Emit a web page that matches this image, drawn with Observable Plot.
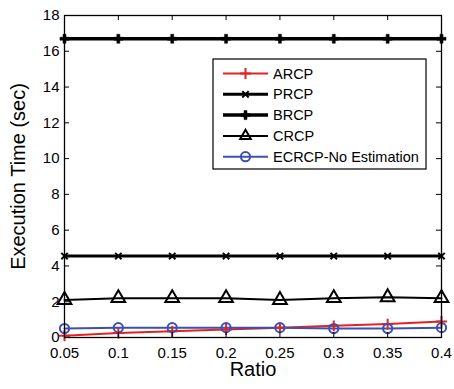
<!DOCTYPE html>
<html><head><meta charset="utf-8">
<script src="https://cdn.jsdelivr.net/npm/d3@7"></script>
<script src="https://cdn.jsdelivr.net/npm/@observablehq/plot@0.6"></script>
<style>
body{margin:0;background:#fff}
#chart{width:454px;height:389px}
</style>
</head><body><div id="chart"></div>
<script>
// ---- data ----
const ratios = [0.05, 0.1, 0.15, 0.2, 0.25, 0.3, 0.35, 0.4];
const xTickLabels = ["0.05", "0.1", "0.15", "0.2", "0.25", "0.3", "0.35", "0.4"];
const yTicks = [0, 2, 4, 6, 8, 10, 12, 14, 16, 18];
const seriesNames = ["ARCP", "PRCP", "BRCP", "CRCP", "ECRCP-No Estimation"];
const arcp  = [0.1, 0.25, 0.35, 0.45, 0.55, 0.65, 0.75, 0.9];
const prcp  = [4.55, 4.55, 4.55, 4.55, 4.55, 4.55, 4.55, 4.55];
const brcp  = [16.7, 16.7, 16.7, 16.7, 16.7, 16.7, 16.7, 16.7];
const crcp  = [2.1, 2.2, 2.2, 2.2, 2.1, 2.2, 2.25, 2.2];
const ecrcp = [0.5, 0.55, 0.55, 0.55, 0.55, 0.5, 0.5, 0.55];

// ---- styles ----
const styles = {
  "ARCP":   {color: "#e3231f", symbol: "plus",     d3sym: d3.symbolPlus,      r: 3.6, lw: 2,   mw: 2,   fill: "none"},
  "PRCP":   {color: "#000000", symbol: "times",    d3sym: d3.symbolTimes,     r: 3,   lw: 3,   mw: 2,   fill: "none"},
  "BRCP":   {color: "#000000", symbol: "cross",    d3sym: d3.symbolCross,     r: 3.8, lw: 3.5, mw: 0.5, fill: "#000000"},
  "CRCP":   {color: "#000000", symbol: "triangle", d3sym: d3.symbolTriangle2, r: 5.1, lw: 2,   mw: 2,   fill: "none"},
  "ECRCP-No Estimation": {color: "#3e4fb0", symbol: "circle", d3sym: d3.symbolCircle, r: 4.6, lw: 2, mw: 2, fill: "none"}
};
const seriesValues = [arcp, prcp, brcp, crcp, ecrcp];

const W = 454, H = 389, mL = 64, mR = 13, mT = 15, mB = 52;
const pw = W - mL - mR, ph = H - mT - mB;
const tick = 5;
const FONT = "'Liberation Sans', Arial, Helvetica, sans-serif";

const marks = [];
seriesNames.forEach((name, si) => {
  const s = styles[name];
  const rows = ratios.map((x, i) => ({x, y: seriesValues[si][i]}));
  marks.push(Plot.line(rows, {x: "x", y: "y", stroke: s.color, strokeWidth: s.lw}));
});
seriesNames.forEach((name, si) => {
  const s = styles[name];
  const rows = ratios.map((x, i) => ({x, y: seriesValues[si][i]}));
  marks.push(Plot.dot(rows, {x: "x", y: "y", symbol: () => s.symbol, r: s.r,
    stroke: s.color, strokeWidth: s.mw, fill: s.fill}));
});

const chart = Plot.plot({
  width: W, height: H,
  marginLeft: mL, marginRight: mR, marginTop: mT, marginBottom: mB,
  style: {fontFamily: FONT, fontSize: "15px", color: "#000", background: "#fff"},
  x: {domain: [0.05, 0.4]},
  y: {domain: [0, 18]},
  marks: [
    ...marks,
    Plot.frame({stroke: "#000", strokeWidth: 1.3}),
    Plot.tickY(yTicks, {y: d => d, insetRight: pw - tick, stroke: "#000"}),
    Plot.tickY(yTicks, {y: d => d, insetLeft: pw - tick, stroke: "#000"}),
    Plot.tickX(ratios, {x: d => d, insetTop: ph - tick, stroke: "#000"}),
    Plot.tickX(ratios, {x: d => d, insetBottom: ph - tick, stroke: "#000"}),
    Plot.axisX(ratios, {tickSize: 0, tickPadding: 10, fontSize: 15, label: null,
      tickFormat: d => xTickLabels[ratios.indexOf(d)]}),
    Plot.axisY(yTicks, {tickSize: 0, tickPadding: 5, fontSize: 15, label: null,
      tickFormat: d => String(d)}),
    Plot.text(["Ratio"], {frameAnchor: "bottom", dy: 38, fontSize: 20, text: d => d}),
    Plot.text(["Execution Time (sec)"], {frameAnchor: "left", dx: -46, rotate: -90,
      textAnchor: "middle", fontSize: 20, text: d => d})
  ]
});

// ---- legend (inside plot, top right) ----
const svg = d3.select(chart);
const lg = svg.append("g").attr("font-family", FONT).attr("font-size", 14.5)
  .attr("text-anchor", "start");
const lx = 213, ly = 59, lw = 213, lh = 110;
lg.append("rect").attr("x", lx).attr("y", ly).attr("width", lw).attr("height", lh)
  .attr("fill", "#fff").attr("stroke", "#000").attr("stroke-width", 1.2);
seriesNames.forEach((name, i) => {
  const s = styles[name];
  const cy = 73.5 + i * 20.8;
  lg.append("line").attr("x1", 223).attr("x2", 268).attr("y1", cy).attr("y2", cy)
    .attr("stroke", s.color).attr("stroke-width", s.lw);
  lg.append("path").attr("d", d3.symbol(s.d3sym, Math.PI * s.r * s.r)())
    .attr("transform", `translate(245.5,${cy})`)
    .attr("fill", s.fill).attr("stroke", s.color).attr("stroke-width", s.mw);
  lg.append("text").attr("x", 273).attr("y", cy).attr("dy", "0.35em")
    .attr("text-anchor", "start").attr("fill", "#000").text(name);
});

document.getElementById("chart").appendChild(chart);
</script>
</body></html>
